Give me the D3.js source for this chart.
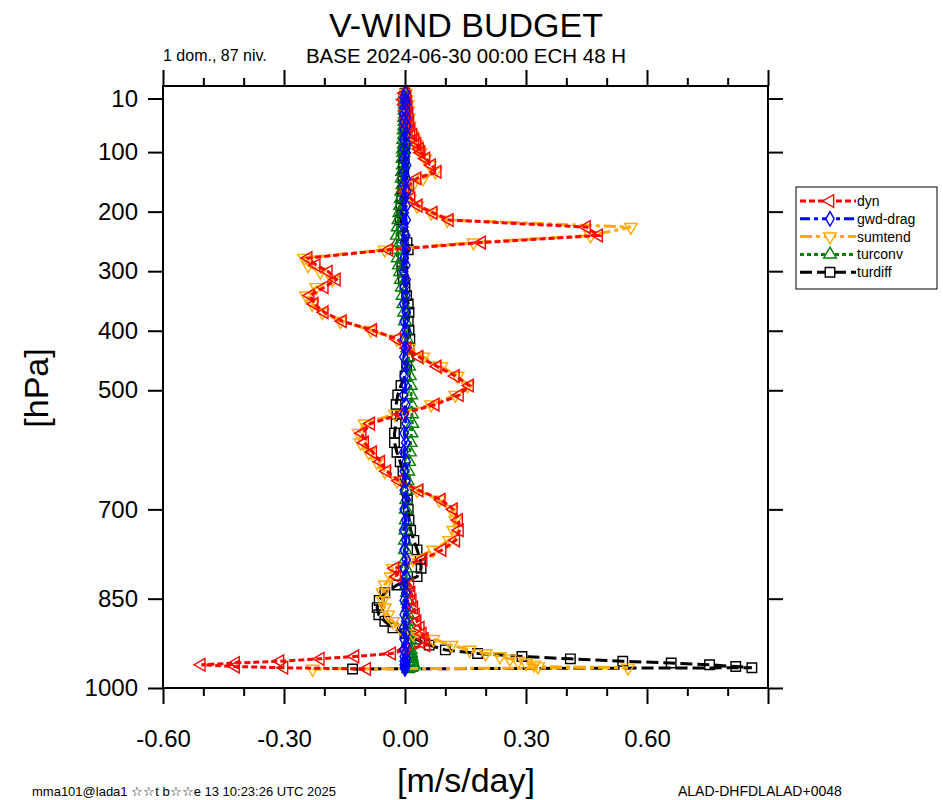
<!DOCTYPE html>
<html>
<head>
<meta charset="utf-8">
<script src="https://cdn.jsdelivr.net/npm/d3@7"></script>
<style>
body { margin: 0; background: #fff; }
svg text { font-family: "Liberation Sans", Arial, sans-serif; fill: #000; }
</style>
</head>
<body>
<script>
// model levels (hPa) and tendencies (m/s/day)
var levels = [1, 8, 12, 16, 20, 25, 30, 36, 42, 49, 56, 63, 71, 79, 87, 95,
	101, 111, 122, 133, 144, 155, 166, 178, 190, 202, 214, 226, 240, 252, 264, 278, 290,
	301, 314, 327, 341, 355, 369, 384, 399, 414, 429, 444, 460, 476, 492, 508, 524, 540, 556, 572, 588, 604, 620, 636, 652, 668, 684, 700,
	718, 735, 752, 768, 784, 799, 813, 827, 840, 853, 865, 877, 888, 899, 909,
	918, 928, 936, 942, 947, 951, 955, 958, 961, 964, 966, 968];

var dyn = [0.0, 0.005, -0.003, 0.006, 0.0, 0.008, 0.002, 0.01, 0.005, 0.012, 0.008, 0.015, 0.02, 0.025, 0.03, 0.036,
	0.04, 0.052, 0.066, 0.08, 0.03, 0.012, 0.0, 0.015, 0.033, 0.07, 0.11, 0.45, 0.48, 0.19, -0.04, -0.24, -0.22,
	-0.19, -0.17, -0.20, -0.235, -0.225, -0.20, -0.155, -0.08, -0.02, 0.005, 0.035, 0.08, 0.125, 0.16, 0.135, 0.075, -0.01, -0.085, -0.106, -0.10, -0.08, -0.06, -0.045, -0.015, 0.035, 0.09, 0.12,
	0.133, 0.135, 0.126, 0.092, 0.045, -0.025, -0.02, 0.012, 0.015, 0.018, 0.022, 0.026, 0.03, 0.038, 0.043,
	0.048, 0.052, 0.0, -0.033, -0.124, -0.21, -0.31, -0.42, -0.505, -0.42, -0.30, -0.095];

var gwdDrag = [0.001, -0.002, 0.002, -0.001, 0.003, -0.002, 0.002, -0.003, 0.003, -0.002, 0.004, -0.002, 0.003, -0.003, 0.004, -0.002,
	0.003, -0.003, 0.004, -0.002, 0.003, -0.003, 0.004, -0.002, 0.003, -0.002, 0.003, -0.003, 0.002, -0.002, 0.003, -0.002, 0.002,
	-0.003, 0.003, -0.002, 0.002, -0.003, 0.003, -0.002, 0.003, -0.002, 0.002, -0.003, 0.003, -0.002, 0.002, -0.003, 0.002, -0.002, 0.003, -0.002, 0.002, -0.003, 0.003, -0.002, 0.002, -0.002, 0.003, -0.002,
	0.002, -0.003, 0.002, -0.002, 0.003, -0.002, 0.002, -0.003, 0.002, -0.002, 0.003, -0.002, 0.002, -0.003, 0.002,
	-0.002, 0.002, -0.003, 0.002, -0.002, 0.003, -0.002, 0.002, -0.002, 0.002, -0.001, 0.0];

var sumtend = [0.002, 0.0, 0.004, -0.002, 0.006, 0.0, 0.007, 0.003, 0.009, 0.006, 0.011, 0.01, 0.017, 0.022, 0.028, 0.033,
	0.038, 0.05, 0.062, 0.075, 0.045, 0.02, 0.005, 0.012, 0.03, 0.065, 0.105, 0.56, 0.46, 0.17, -0.05, -0.25, -0.24,
	-0.21, -0.18, -0.22, -0.245, -0.23, -0.205, -0.16, -0.085, -0.02, 0.01, 0.045, 0.09, 0.13, 0.155, 0.125, 0.065, -0.025, -0.10, -0.115, -0.11, -0.09, -0.07, -0.05, -0.02, 0.03, 0.085, 0.115,
	0.125, 0.12, 0.11, 0.07, 0.02, -0.03, -0.035, -0.05, -0.055, -0.055, -0.05, -0.042, -0.03, -0.012, 0.02,
	0.07, 0.115, 0.16, 0.20, 0.235, 0.26, 0.28, 0.30, 0.32, 0.33, 0.553, -0.229];

var turconv = [0.0, 0.001, 0.0, -0.001, 0.0, 0.0, -0.001, 0.0, -0.002, -0.001, -0.002, -0.003, -0.002, -0.004, -0.003, -0.005,
	-0.004, -0.006, -0.005, -0.007, -0.008, -0.006, -0.009, -0.01, -0.012, -0.014, -0.016, -0.018, -0.02, -0.019, -0.022, -0.018, -0.015,
	-0.012, -0.01, -0.008, -0.006, -0.004, -0.002, 0.0, 0.002, 0.004, 0.006, 0.008, 0.01, 0.012, 0.014, 0.015, 0.016, 0.017, 0.018, 0.016, 0.014, 0.012, 0.01, 0.008, 0.006, 0.004, 0.003, 0.002,
	0.002, 0.001, 0.0, 0.0, 0.001, 0.002, 0.003, 0.004, 0.005, 0.006, 0.007, 0.008, 0.009, 0.01, 0.011,
	0.012, 0.013, 0.014, 0.015, 0.016, 0.017, 0.018, 0.019, 0.02, 0.018, 0.015, 0.008];

var turdiff = [0.0, 0.0, -0.002, 0.0, 0.001, 0.0, -0.001, 0.0, 0.001, 0.0, -0.001, 0.0, 0.0, 0.001, 0.0, -0.002,
	-0.003, -0.002, -0.004, -0.003, -0.005, -0.004, -0.006, -0.008, -0.01, -0.008, -0.012, -0.006, -0.004, 0.005, 0.008, -0.005, -0.008,
	-0.006, -0.004, 0.0, 0.004, 0.008, 0.01, 0.008, 0.01, 0.012, 0.01, 0.008, 0.004, 0.0, -0.01, -0.018, -0.022, -0.02, -0.022, -0.026, -0.026, -0.02, -0.012, -0.005, 0.0, 0.004, 0.006, 0.008,
	0.01, 0.014, 0.022, 0.03, 0.038, 0.04, 0.03, -0.02, -0.05, -0.064, -0.069, -0.065, -0.05, -0.03, 0.0,
	0.027, 0.06, 0.10, 0.18, 0.29, 0.41, 0.54, 0.66, 0.755, 0.82, 0.86, -0.13];

var seriesNames = ['dyn', 'gwd-drag', 'sumtend', 'turconv', 'turdiff'];
var yTicks = [10, 100, 200, 300, 400, 500, 700, 850, 1000];
var xTicks = [-0.6, -0.3, 0, 0.3, 0.6, 0.9];
var xMinor = [-0.5, -0.4, -0.2, -0.1, 0.1, 0.2, 0.4, 0.5, 0.7, 0.8];

var width = 943, height = 800;
var plotLeft = 163, plotRight = 768, plotTop = 86, plotBottom = 688;

var svg = d3.select('body')
	.append('svg')
	.attr('width', width)
	.attr('height', height);

var x = d3.scaleLinear().domain([-0.6, 0.9]).range([plotLeft, plotRight]);
var y = d3.scaleLinear().domain([-11, 1000]).range([plotTop, plotBottom]);

// axes
function styleAxis(g) {
	g.select('.domain').remove();
	g.selectAll('line').attr('stroke', '#000').attr('stroke-width', 2);
}

svg.append('g')
	.attr('transform', 'translate(0,' + plotBottom + ')')
	.call(d3.axisBottom(x).tickValues(xTicks).tickSize(16).tickPadding(26)
		.tickFormat(function(d) { return d === 0.9 ? '' : d.toFixed(2); }))
	.call(styleAxis)
	.selectAll('text').style('font-size', '24px');

svg.append('g')
	.attr('transform', 'translate(0,' + plotBottom + ')')
	.call(d3.axisBottom(x).tickValues(xMinor).tickSize(8).tickFormat(''))
	.call(styleAxis);

svg.append('g')
	.attr('transform', 'translate(0,' + plotTop + ')')
	.call(d3.axisTop(x).tickValues(xTicks).tickSize(16).tickFormat(''))
	.call(styleAxis);

svg.append('g')
	.attr('transform', 'translate(0,' + plotTop + ')')
	.call(d3.axisTop(x).tickValues(xMinor).tickSize(8).tickFormat(''))
	.call(styleAxis);

svg.append('g')
	.attr('transform', 'translate(' + plotLeft + ',0)')
	.call(d3.axisLeft(y).tickValues(yTicks).tickSize(15).tickPadding(10)
		.tickFormat(function(d) { return String(d); }))
	.call(styleAxis)
	.selectAll('text').style('font-size', '24px');

svg.append('g')
	.attr('transform', 'translate(' + plotRight + ',0)')
	.call(d3.axisRight(y).tickValues(yTicks).tickSize(15).tickFormat(''))
	.call(styleAxis);

// series, drawn bottom to top
var series = [
	{ name: 'turdiff', values: turdiff, color: '#000000', dash: '12,5', marker: 'square' },
	{ name: 'turconv', values: turconv, color: '#008000', dash: '4,3', marker: 'up' },
	{ name: 'sumtend', values: sumtend, color: '#FFAA00', dash: '12,4,4,4', marker: 'down' },
	{ name: 'dyn', values: dyn, color: '#FF0000', dash: '6,3', marker: 'left' },
	{ name: 'gwd-drag', values: gwdDrag, color: '#0000FF', dash: '10,4,4,4', marker: 'diamond' }
];

function markerPath(kind) {
	if (kind === 'square') return d3.symbol(d3.symbolSquare, 90)();
	if (kind === 'diamond') return d3.symbol(d3.symbolDiamond, 60)();
	return d3.symbol(d3.symbolTriangle, 70)();
}
function markerRotate(kind) {
	if (kind === 'left') return -90;
	if (kind === 'down') return 180;
	return 0;
}

var line = d3.line()
	.x(function(d) { return x(d[0]); })
	.y(function(d) { return y(d[1]); });

var plot = svg.append('g');

series.forEach(function(s) {
	var pts = s.values.map(function(v, i) { return [v, levels[i]]; });
	var g = plot.append('g').attr('class', 'series');
	g.append('path')
		.datum(pts)
		.attr('fill', 'none')
		.attr('stroke', s.color)
		.attr('stroke-width', 3)
		.attr('stroke-dasharray', s.dash)
		.attr('d', line);
	g.selectAll('path.mk')
		.data(pts)
		.enter()
		.append('path')
		.attr('class', 'mk')
		.attr('d', markerPath(s.marker))
		.attr('transform', function(d) {
			return 'translate(' + x(d[0]) + ',' + y(d[1]) + ') rotate(' + markerRotate(s.marker) + ')';
		})
		.attr('fill', 'none')
		.attr('stroke', s.color)
		.attr('stroke-width', 1.4);
});

// frame
svg.append('rect')
	.attr('x', plotLeft)
	.attr('y', plotTop)
	.attr('width', plotRight - plotLeft)
	.attr('height', plotBottom - plotTop)
	.attr('fill', 'none')
	.attr('stroke', '#000')
	.attr('stroke-width', 2);

// titles
svg.append('text').attr('x', 466).attr('y', 37).attr('text-anchor', 'middle')
	.style('font-size', '34px').text('V-WIND BUDGET');
svg.append('text').attr('x', 466).attr('y', 63).attr('text-anchor', 'middle')
	.style('font-size', '20.5px').text('BASE 2024-06-30 00:00 ECH 48 H');
svg.append('text').attr('x', 163).attr('y', 61)
	.style('font-size', '16px').text('1 dom., 87 niv.');
svg.append('text').attr('transform', 'translate(48,388) rotate(-90)').attr('text-anchor', 'middle')
	.style('font-size', '34px').text('[hPa]');
svg.append('text').attr('x', 466).attr('y', 792).attr('text-anchor', 'middle')
	.style('font-size', '34px').text('[m/s/day]');
svg.append('text').attr('x', 32).attr('y', 796)
	.style('font-size', '13px').text('mma101@lada1 \u2606\u2606t b\u2606\u2606e 13 10:23:26 UTC 2025');
svg.append('text').attr('x', 678).attr('y', 796)
	.style('font-size', '14px').text('ALAD-DHFDLALAD+0048');

// legend
var legend = svg.append('g').attr('transform', 'translate(796,187)');
legend.append('rect').attr('width', 141).attr('height', 102)
	.attr('fill', '#fff').attr('stroke', '#000').attr('stroke-width', 1);
var legendOrder = seriesNames.map(function(n) {
	return series.filter(function(s) { return s.name === n; })[0];
});
legendOrder.forEach(function(s, i) {
	var ly = 14 + i * 17.8;
	legend.append('line').attr('x1', 4).attr('x2', 60).attr('y1', ly).attr('y2', ly)
		.attr('stroke', s.color).attr('stroke-width', 3).attr('stroke-dasharray', s.dash);
	legend.append('path').attr('d', markerPath(s.marker))
		.attr('transform', 'translate(34,' + ly + ') rotate(' + markerRotate(s.marker) + ')')
		.attr('fill', '#fff').attr('stroke', s.color).attr('stroke-width', 1.4);
	legend.append('text').attr('x', 61).attr('y', ly + 5)
		.style('font-size', '14px').text(s.name);
});
</script>
</body>
</html>
